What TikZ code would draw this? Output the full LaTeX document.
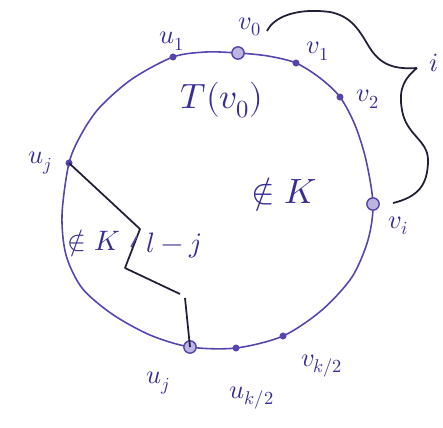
\documentclass[tikz,border=0pt]{standalone}
\usepackage{unicode-math}
\setmathfont{Latin Modern Math}
\definecolor{pen}{RGB}{85,70,175}
\definecolor{ink}{RGB}{55,45,150}
\definecolor{blk}{RGB}{35,30,55}
\begin{document}
\begin{tikzpicture}[x=0.02cm,y=-0.02cm,
  cyc/.style={pen, line width=0.9pt},
  ptdot/.style={circle, fill=pen, inner sep=0pt, minimum size=4pt},
  ptring/.style={circle, draw=pen, fill=pen!40, line width=0.8pt, inner sep=0pt, minimum size=7pt},
  lab/.style={ink, font=\fontsize{15}{17}\selectfont, inner sep=1pt},
  biglab/.style={ink, font=\fontsize{20}{24}\selectfont, inner sep=1pt},
  midlab/.style={ink, font=\fontsize{16}{19}\selectfont, inner sep=1pt},
  blkline/.style={blk, line width=1pt, line join=round}]
\useasboundingbox (0,0) rectangle (443,427);
% points on the cycle
\coordinate (v0) at (238,53);
\coordinate (v1) at (296,63);
\coordinate (v2) at (340,97);
\coordinate (vi) at (373,204);
\coordinate (vk) at (283,336);
\coordinate (uk) at (236,348);
\coordinate (uj) at (190,347);
\coordinate (ujp) at (69,163);
\coordinate (u1) at (173,57);
\draw[cyc] plot[smooth cycle, tension=0.5] coordinates {(v0) (268,56) (v1) (320,78) (v2) (355,125) (366,160) (vi) (368,240) (352,277) (322,310) (vk) (uk) (uj) (150,335) (112,314) (82,288) (66,255) (62,215) (ujp) (82,133) (100,107) (132,79) (u1) (206,52)};
% vertices
\node[ptring] (nv0) at (v0) {};
\node[ptring] (nvi) at (vi) {};
\node[ptring] (nuj) at (uj) {};
\node[ptdot] (nujp) at (ujp) {};
\node[ptdot] (nu1) at (u1) {};
\node[ptdot] (nv1) at (v1) {};
\node[ptdot] (nv2) at (v2) {};
\node[ptdot] (nvk) at (vk) {};
\node[ptdot] (nuk) at (uk) {};
% path from u_j' to u_j
\coordinate (p1) at (140,229);
\coordinate (p2) at (125,268);
\coordinate (p3) at (180,294);
\coordinate (p4) at (185,298);
\draw[blkline] (nujp.center) -- (p1) -- (p2) -- (p3) (p4) -- (nuj.center);
\draw[pen, line width=0.9pt] (131,247) -- (137,236);
% brace
\coordinate (b0) at (267,31);
\coordinate (bt) at (417,68);
\coordinate (b1) at (393,203);
\draw[blkline] (b0) .. controls (275,15) and (300,8) .. (330,12)
  .. controls (350,16) and (358,28) .. (368,45)
  .. controls (378,62) and (390,70) .. (bt);
\draw[blkline] (bt) .. controls (405,78) and (398,88) .. (402,110)
  .. controls (406,135) and (428,140) .. (428,160)
  .. controls (428,185) and (418,197) .. (b1);
% labels
\node[lab] (lv0) at (250,27) {$v_0$};
\node[lab] (lu1) at (172,41) {$u_1$};
\node[lab] (lv1) at (318,51) {$v_1$};
\node[lab] (lv2) at (368,99) {$v_2$};
\node[lab] (lvi) at (399,226) {$v_i$};
\node[lab] (lujp) at (40,163) {$u_j$};
\node[lab] (luj) at (158,383) {$u_j$};
\node[lab] (luk) at (252,398) {$u_{k/2}$};
\node[lab] (lvk) at (322,366) {$v_{k/2}$};
\node[biglab] (lT) at (222,100) {$T(v_0)$};
\node[biglab] (lK1) at (284,195) {$\notin K$};
\node[midlab] (lK2) at (94,243) {$\notin K$};
\node[midlab] (llj) at (174,246) {$l-j$};
\node[lab] (li) at (434,63) {$i$};
\end{tikzpicture}
\end{document}
